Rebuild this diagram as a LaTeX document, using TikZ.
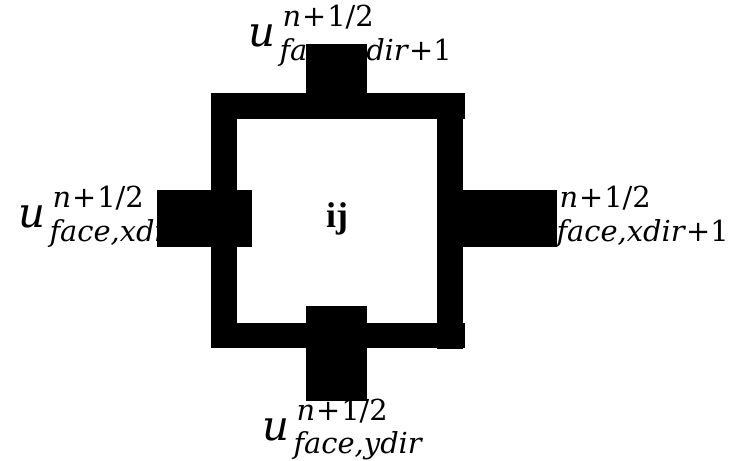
\documentclass[tikz,border=0pt]{standalone}
\usepackage{fontspec}
\usetikzlibrary{calc}
\newfontfamily\tnr{Liberation Serif}
\newfontfamily\dvs{DejaVu Serif}
\newcommand{\up}[1]{\textup{#1}}
\newcommand{\supt}{n\up{\kern1bp+\kern1bp1/2}}
\begin{document}
\begin{tikzpicture}[x=1bp,y=-1bp,
  blk/.style={fill=black,draw=none},
  ubase/.style={inner sep=0pt,anchor=base west,font=\dvs\itshape\fontsize{42}{48}\selectfont},
  scr/.style={inner sep=0pt,anchor=base west,font=\dvs\itshape\fontsize{29}{34}\selectfont},
]
\useasboundingbox (0,0) rectangle (730,461);
% labels (drawn first, partly covered by blocks)
\node[ubase] (ut) at (248,47) {u};
\node[scr] (ut-sup) at ($(ut.base east)+(7,-20)$) {\supt};
\node[scr] (ut-sub) at ($(ut.base east)+(4,14)$) {face,ydir\up{+1}};
\node[ubase] (ul) at (18,228) {u};
\node[scr] (ul-sup) at ($(ul.base east)+(7,-20)$) {\supt};
\node[scr] (ul-sub) at ($(ul.base east)+(4,14)$) {face,xdir};
\node[ubase] (ur) at (525,228) {u};
\node[scr] (ur-sup) at ($(ur.base east)+(7,-20)$) {\supt};
\node[scr] (ur-sub) at ($(ur.base east)+(4,14)$) {face,xdir\up{+1}};
\node[ubase] (ub) at (262,440) {u};
\node[scr] (ub-sup) at ($(ub.base east)+(7,-20)$) {\supt};
\node[scr] (ub-sub) at ($(ub.base east)+(4,13)$) {face,ydir};
\node[inner sep=0pt,font=\tnr\bfseries\fontsize{36}{40}\selectfont,anchor=base] (ij) at (337,228) {ij};
% frame
\fill[blk] (213,93) rectangle (465,119);
\fill[blk] (212,323) rectangle (465,348);
\fill[blk] (211,93) rectangle (237,348);
\fill[blk] (437,93) rectangle (463,349);
% face blocks
\fill[blk] (306,44) rectangle (367,93);
\fill[blk] (306,306) rectangle (367,401);
\fill[blk] (157,190) rectangle (252,247);
\fill[blk] (450,190) rectangle (557,247);
\end{tikzpicture}
\end{document}
